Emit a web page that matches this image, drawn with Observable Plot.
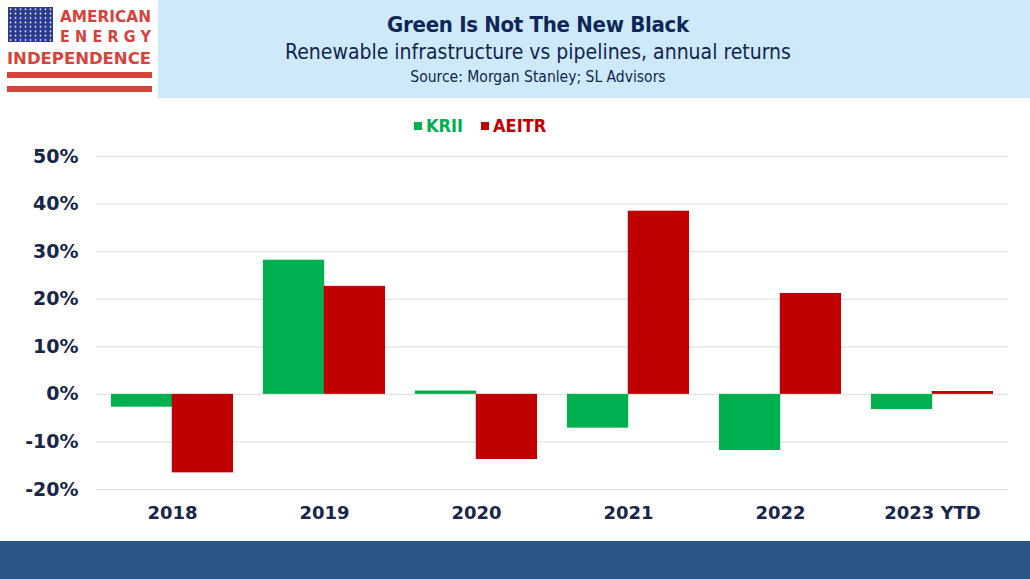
<!DOCTYPE html>
<html>
<head>
<meta charset="utf-8">
<script src="https://cdn.jsdelivr.net/npm/d3@7"></script>
<script src="https://cdn.jsdelivr.net/npm/@observablehq/plot@0.6"></script>
<style>
  html, body { margin: 0; padding: 0; background: #fff; }
  #page { position: relative; width: 1030px; height: 579px; overflow: hidden; background: #fff; }
  #logo { position: absolute; left: 0; top: 0; width: 158px; height: 98px; background: #fff; }
  #head { position: absolute; left: 158px; top: 0; width: 872px; height: 98px; background: #cde9fa; }
  .ht { position: absolute; left: 0; width: 760px; text-align: center; color: #0f2656; white-space: nowrap; }
  #title { top: 12px; font: bold 22px "DejaVu Sans Condensed", "DejaVu Sans", sans-serif; letter-spacing: -0.3px; }
  #sub { top: 40px; font: 21px "DejaVu Sans Condensed", "DejaVu Sans", sans-serif; color: #13254d; }
  #src { top: 68px; font: 15.5px "DejaVu Sans Condensed", "DejaVu Sans", sans-serif; color: #13254d; }
  #legend { position: absolute; left: 414px; top: 115px; display: flex; align-items: center; font: bold 18px "DejaVu Sans Condensed", "DejaVu Sans", sans-serif; }
  .sw { display: inline-block; width: 8px; height: 8px; margin-right: 4px; }
  #chart { position: absolute; left: 0; top: 140px; }
  #foot { position: absolute; left: 0; top: 541px; width: 1030px; height: 38px; background: #2a5785; }
</style>
</head>
<body>
<div id="page">
  <div id="logo">
    <svg width="158" height="98" xmlns="http://www.w3.org/2000/svg">
      <defs>
        <pattern id="stars" x="8" y="7" width="5" height="4.4" patternUnits="userSpaceOnUse">
          <circle cx="2.5" cy="2.2" r="0.9" fill="#fff"/>
        </pattern>
      </defs>
      <rect x="8" y="7" width="45" height="35" fill="#2b3a8f"/>
      <rect x="8" y="7" width="45" height="35" fill="url(#stars)"/>
      <text x="60" y="22" textLength="91" lengthAdjust="spacingAndGlyphs" fill="#d6433b" style="font: bold 16px 'DejaVu Sans Condensed', 'DejaVu Sans', sans-serif;">AMERICAN</text>
      <text x="60" y="42" textLength="91" lengthAdjust="spacing" fill="#d6433b" style="font: bold 16px 'DejaVu Sans Condensed', 'DejaVu Sans', sans-serif;">ENERGY</text>
      <text x="7" y="64" textLength="144" lengthAdjust="spacingAndGlyphs" fill="#d6433b" style="font: bold 16px 'DejaVu Sans Condensed', 'DejaVu Sans', sans-serif;">INDEPENDENCE</text>
      <rect x="7" y="72" width="145" height="6" fill="#d6433b"/>
      <rect x="7" y="86" width="145" height="6" fill="#d6433b"/>
    </svg>
  </div>
  <div id="head">
    <div class="ht" id="title">Green Is Not The New Black</div>
    <div class="ht" id="sub">Renewable infrastructure vs pipelines, annual returns</div>
    <div class="ht" id="src">Source: Morgan Stanley; SL Advisors</div>
  </div>
  <div id="legend"></div>
  <div id="chart"></div>
  <div id="foot"></div>
</div>
<script>
// ---- data ----
const categories = ["2018", "2019", "2020", "2021", "2022", "2023 YTD"];
const seriesNames = ["KRII", "AEITR"];
const krii = [-2.7, 28.2, 0.7, -7.1, -11.8, -3.2];
const aeitr = [-16.5, 22.7, -13.7, 38.5, 21.2, 0.6];
const yTicks = [-20, -10, 0, 10, 20, 30, 40, 50];

const colors = {KRII: "#00b050", AEITR: "#c00000"};

const rowsK = categories.map((c, i) => ({cat: c, series: "KRII", value: krii[i]}));
const rowsA = categories.map((c, i) => ({cat: c, series: "AEITR", value: aeitr[i]}));

// legend
const leg = document.getElementById("legend");
seriesNames.forEach((s, i) => {
  const item = document.createElement("span");
  item.style.display = "inline-flex";
  item.style.alignItems = "center";
  item.style.marginRight = "18px";
  item.style.color = colors[s];
  item.innerHTML = `<span class="sw" style="background:${colors[s]}"></span>${s}`;
  leg.appendChild(item);
});

// layout
const W = 1030, H = 400, ML = 96, MR = 22;
const pIn = 0.2, pOut = 0.1;
const step = (W - ML - MR) / (categories.length - pIn + 2 * pOut);
const half = step * (1 - pIn) / 2;

const chart = Plot.plot({
  width: W,
  height: H,
  marginLeft: ML,
  marginRight: MR,
  marginTop: 16,
  marginBottom: 51,
  style: {fontFamily: "'DejaVu Sans', sans-serif", color: "#18264a", background: "transparent"},
  x: {domain: categories, paddingInner: pIn, paddingOuter: pOut, label: null},
  y: {domain: [-20, 50], label: null},
  marks: [
    Plot.ruleY(yTicks, {stroke: "#e2e2e2", strokeWidth: 1.2}),
    Plot.barY(rowsK, {x: "cat", y: "value", fill: colors.KRII, insetRight: half}),
    Plot.barY(rowsA, {x: "cat", y: "value", fill: colors.AEITR, insetLeft: half}),
    Plot.axisY(yTicks, {tickSize: 0, tickPadding: 18, tickFormat: d => d + "%", fontSize: 19, fontWeight: "bold", fill: "#18264a", label: null}),
    Plot.axisX({tickSize: 0, tickPadding: 17, fontSize: 18, fontWeight: "bold", fill: "#18264a", label: null})
  ]
});
document.getElementById("chart").appendChild(chart);
</script>
</body>
</html>
